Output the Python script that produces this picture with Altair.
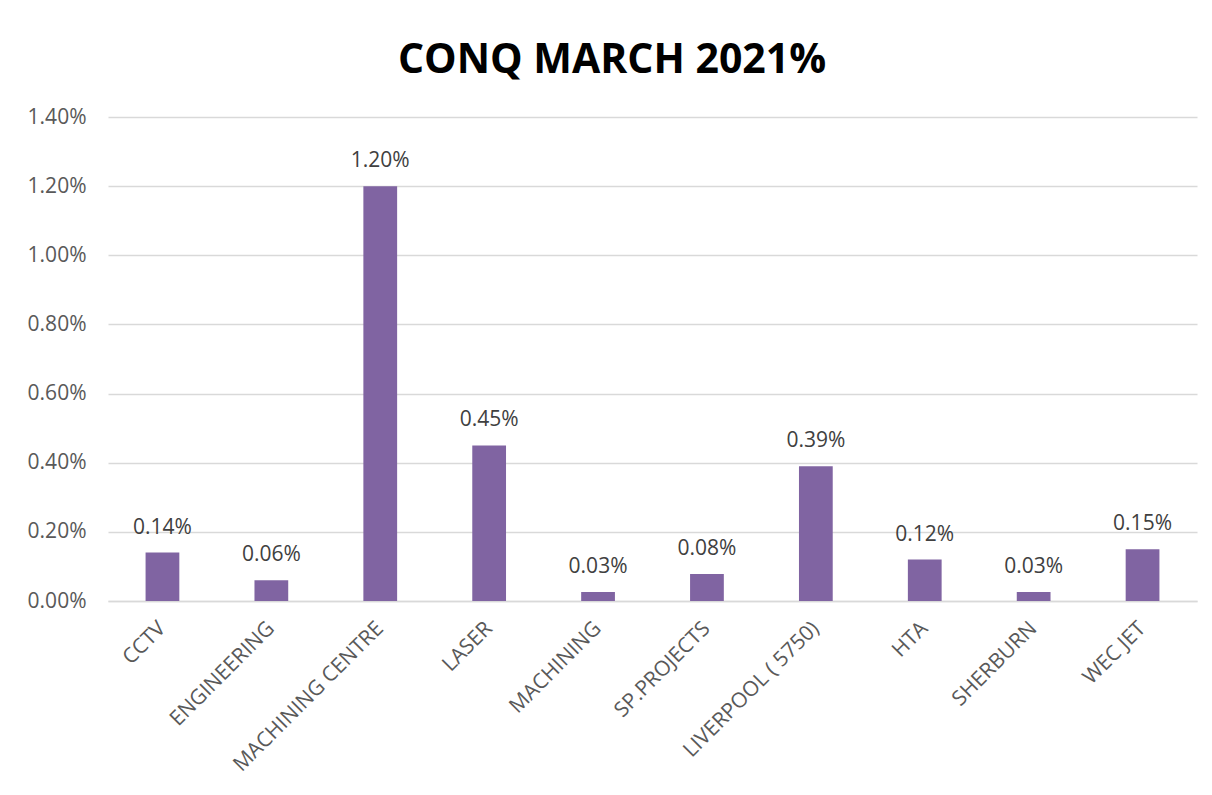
import altair as alt
import pandas as pd

categories = ["CCTV", "ENGINEERING", "MACHINING CENTRE", "LASER", "MACHINING",
              "SP.PROJECTS", "LIVERPOOL ( 5750)", "HTA", "SHERBURN", "WEC JET"]
values = [0.0014, 0.0006, 0.012, 0.0045, 0.00026, 0.00078, 0.0039, 0.0012, 0.00026, 0.0015]
y_ticks = [0, 0.002, 0.004, 0.006, 0.008, 0.010, 0.012, 0.014]

df = pd.DataFrame({"category": categories, "value": values})

FONT = "Open Sans"
AXIS_GREY = "#595959"

x_enc = alt.X(
    "category:N", sort=None, title=None,
    scale=alt.Scale(paddingInner=0.69, paddingOuter=0.345),
    axis=alt.Axis(labelAngle=-45, labelAlign="right", labelBaseline="middle",
                  labelPadding=24, labelFontSize=21, labelFont=FONT, labelColor=AXIS_GREY,
                  labelLimit=400, ticks=False, domainColor="#d9d9d9", domainWidth=1.5, grid=False),
)
y_enc = alt.Y(
    "value:Q", title=None,
    scale=alt.Scale(domain=[0, 0.014], nice=False),
    axis=alt.Axis(values=y_ticks, format=".2%", labelFontSize=21, labelFont=FONT,
                  labelColor=AXIS_GREY, labelPadding=22, ticks=False, domain=False,
                  grid=True, gridColor="#d9d9d9", gridWidth=1.3),
)

base = alt.Chart(df)
bars = base.mark_bar(color="#8064A2").encode(x=x_enc, y=y_enc)
labels = base.mark_text(font=FONT, fontSize=21, color="#404040", baseline="alphabetic", dy=-19).encode(
    x=alt.X("category:N", sort=None),
    y=alt.Y("value:Q"),
    text=alt.Text("value:Q", format=".2%"),
)

chart = (bars + labels).properties(
    width=1089, height=484,
    autosize=alt.AutoSizeParams(type="none"),
    padding={"left": 100, "top": 109, "right": 7, "bottom": 186},
    title=alt.TitleParams("CONQ MARCH 2021%", font=FONT, fontSize=41, fontWeight="bold",
                          color="#000000", anchor="middle", frame="bounds", offset=24),
    background="white",
).configure_view(stroke=None)

chart.save("out.html", embed_options={"renderer": "svg", "actions": False})
